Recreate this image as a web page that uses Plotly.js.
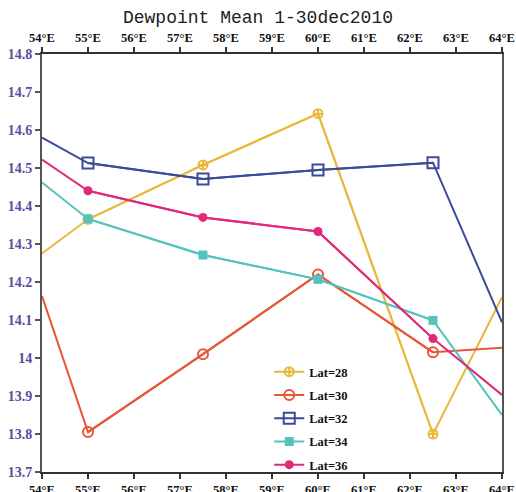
<!DOCTYPE html>
<html>
<head>
<meta charset="utf-8">
<script src="https://cdn.plot.ly/plotly-3.0.1.min.js"></script>
<style>html,body{margin:0;padding:0;background:#fff;}#chart{width:516px;height:492px;}</style>
</head>
<body>
<div id="chart"></div>
<script>
// Data
var lon = [54, 55, 57.5, 60, 62.5, 64];
var lat28 = [14.275, 14.365, 14.508, 14.643, 13.800, 14.160];
var lat30 = [14.163, 13.805, 14.010, 14.220, 14.015, 14.027];
var lat32 = [14.580, 14.513, 14.471, 14.495, 14.514, 14.094];
var lat34 = [14.462, 14.366, 14.271, 14.207, 14.099, 13.850];
var lat36 = [14.522, 14.440, 14.370, 14.333, 14.051, 13.903];
var seriesNames = ['Lat=28', 'Lat=30', 'Lat=32', 'Lat=34', 'Lat=36'];
var xTickVals = [54, 55, 56, 57, 58, 59, 60, 61, 62, 63, 64];
var xTickText = ['54°E', '55°E', '56°E', '57°E', '58°E', '59°E', '60°E', '61°E', '62°E', '63°E', '64°E'];
var yTickVals = [13.7, 13.8, 13.9, 14.0, 14.1, 14.2, 14.3, 14.4, 14.5, 14.6, 14.7, 14.8];

var xRange = [54, 64];
var yRange = [13.7, 14.8];

var allSeries = [lat28, lat30, lat32, lat34, lat36];
var styles = [
  {color: '#e9b83c', symbol: 'circle-cross-open', size: 9, lw: 2},
  {color: '#e6573a', symbol: 'circle-open', size: 10, lw: 2},
  {color: '#3b4a9a', symbol: 'square-open', size: 11, lw: 2},
  {color: '#52c3bd', symbol: 'square', size: 9, lw: 0},
  {color: '#e0297a', symbol: 'circle', size: 9, lw: 0}
];

var traces = [];
allSeries.forEach(function (ys, i) {
  var st = styles[i];
  // full line, reaching the plot edges
  traces.push({
    x: lon, y: ys, type: 'scatter', mode: 'lines',
    line: {color: st.color, width: 2},
    legendgroup: 'g' + i, showlegend: false, hoverinfo: 'skip'
  });
  // markers only at interior points (edge points are hidden in the reference)
  var xi = [], yi = [];
  lon.forEach(function (x, k) {
    if (x > xRange[0] && x < xRange[1]) { xi.push(x); yi.push(ys[k]); }
  });
  traces.push({
    x: xi, y: yi, type: 'scatter', mode: 'lines+markers', name: seriesNames[i],
    line: {color: st.color, width: 2},
    marker: {color: st.color, symbol: st.symbol, size: st.size, line: {color: st.color, width: st.lw}},
    legendgroup: 'g' + i
  });
});
// invisible trace to carry the top axis
traces.push({x: [xRange[0]], y: [yRange[0]], xaxis: 'x2', type: 'scatter', mode: 'none', showlegend: false, hoverinfo: 'skip'});

var tickFontX = {family: 'Liberation Serif', size: 12.5, color: '#111', weight: 'bold'};
var tickFontY = {family: 'Liberation Serif', size: 14, color: '#5a4c9e', weight: 'bold'};

var layout = {
  width: 516, height: 492,
  margin: {l: 42, r: 14, t: 54, b: 14},
  paper_bgcolor: '#fff', plot_bgcolor: '#fff',
  title: {
    text: 'Dewpoint Mean 1-30dec2010',
    font: {family: 'Liberation Mono', size: 18, color: '#222'},
    x: 0.5, xref: 'container', xanchor: 'center',
    y: 1 - 17 / 492, yref: 'container', yanchor: 'middle'
  },
  xaxis: {
    range: xRange, tickmode: 'array', tickvals: xTickVals, ticktext: xTickText,
    showgrid: false, zeroline: false, showline: true, linecolor: '#333', linewidth: 2,
    ticks: 'outside', ticklen: 5, tickcolor: '#333', tickwidth: 1.5,
    tickfont: tickFontX, side: 'bottom'
  },
  xaxis2: {
    range: xRange, overlaying: 'x', side: 'top', anchor: 'y', tickmode: 'array',
    tickvals: xTickVals, ticktext: xTickText,
    showgrid: false, zeroline: false, showline: true, linecolor: '#333', linewidth: 2,
    ticks: 'outside', ticklen: 5, tickcolor: '#333', tickwidth: 1.5,
    tickfont: tickFontX
  },
  yaxis: {
    range: yRange, tickmode: 'array', tickvals: yTickVals,
    showgrid: false, zeroline: false, showline: true, mirror: true, linecolor: '#555', linewidth: 2,
    ticks: 'outside', ticklen: 5, tickcolor: '#555', tickwidth: 1.5,
    tickfont: tickFontY
  },
  legend: {
    x: 0.494, y: 0.275, xanchor: 'left', yanchor: 'top',
    bgcolor: 'rgba(0,0,0,0)', borderwidth: 0,
    font: {family: 'Liberation Serif', size: 12.5, color: '#111', weight: 'bold'},
    tracegroupgap: 4, traceorder: 'grouped'
  },
  showlegend: true
};

Plotly.newPlot('chart', traces, layout, {staticPlot: true});
</script>
</body>
</html>
